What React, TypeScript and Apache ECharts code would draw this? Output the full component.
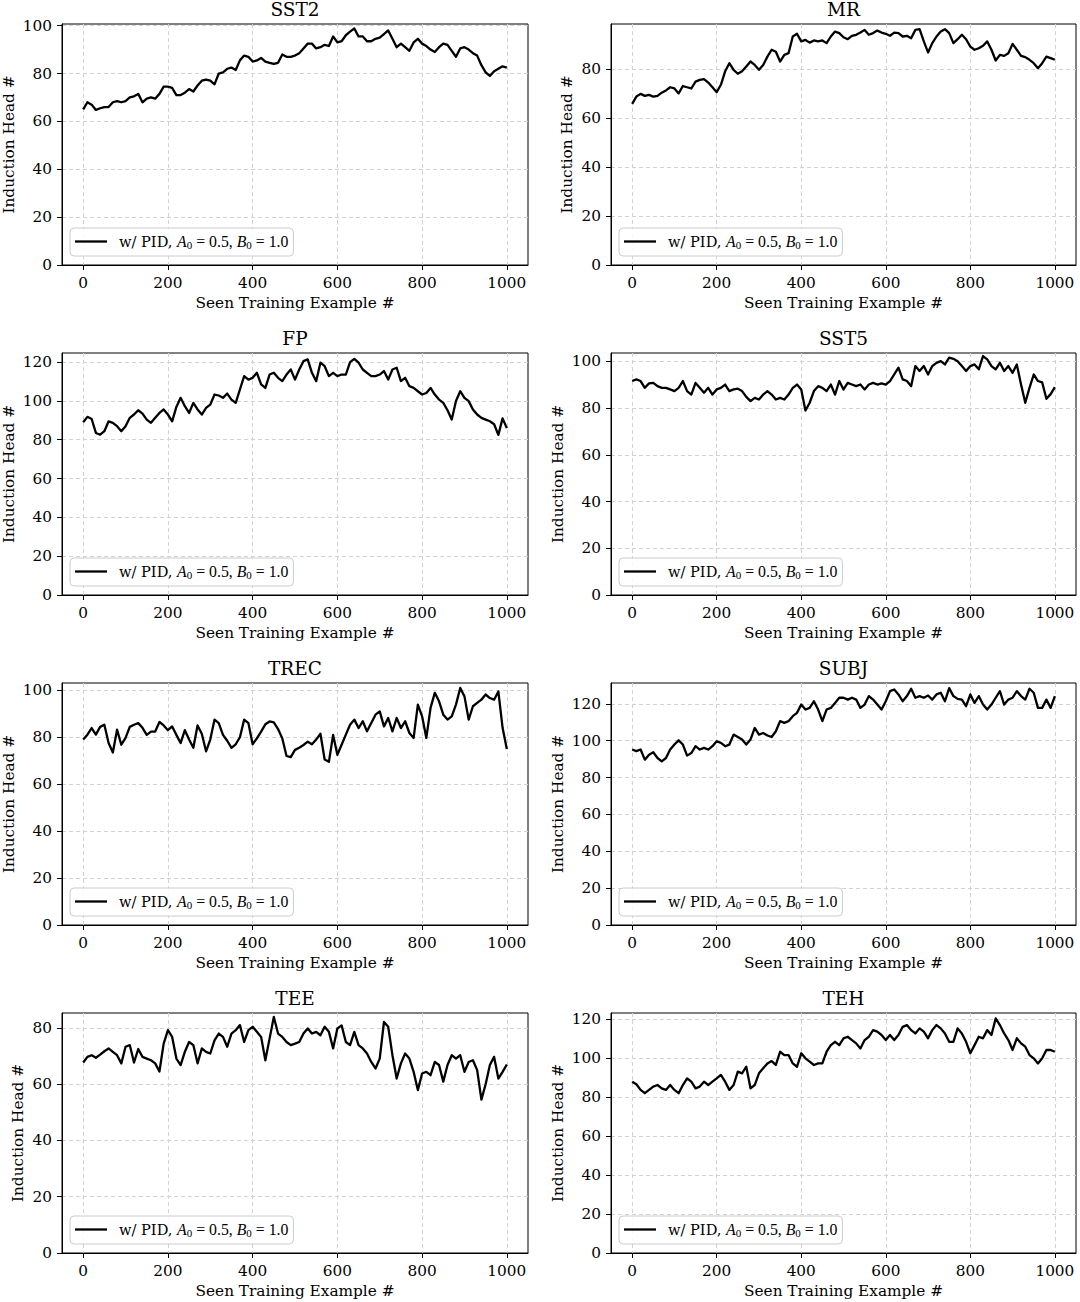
import React, { useEffect, useRef } from "react";
import * as echarts from "echarts";

// ---------- data ----------
const STEPS = [
  0, 10, 20, 30, 40, 50, 60, 70, 80, 90,
  100, 110, 120, 130, 140, 150, 160, 170, 180, 190,
  200, 210, 220, 230, 240, 250, 260, 270, 280, 290,
  300, 310, 320, 330, 340, 350, 360, 370, 380, 390,
  400, 410, 420, 430, 440, 450, 460, 470, 480, 490,
  500, 510, 520, 530, 540, 550, 560, 570, 580, 590,
  600, 610, 620, 630, 640, 650, 660, 670, 680, 690,
  700, 710, 720, 730, 740, 750, 760, 770, 780, 790,
  800, 810, 820, 830, 840, 850, 860, 870, 880, 890,
  900, 910, 920, 930, 940, 950, 960, 970, 980, 990,
  1000,
];

const SST2 = [
  65, 68, 67, 64.8, 65.5, 66, 66, 68, 68.5, 68,
  68.5, 70, 70.5, 71.5, 68, 69.5, 70, 69.5, 71.5, 74.5,
  74.5, 74, 71, 71, 72, 73.5, 72.5, 75, 77, 77.5,
  77, 75.5, 80, 80.5, 82, 82.5, 81.5, 85.5, 87.5, 87,
  85, 85.5, 86.5, 85, 84.5, 84, 84.5, 88, 87, 87,
  87.5, 88.5, 90.5, 92.5, 92.5, 90.5, 91, 92, 91.5, 95.5,
  93, 93.5, 96, 97.5, 98.8, 95.5, 95.5, 93.5, 93.5, 94.5,
  95, 96.5, 98, 94.5, 91, 92.5, 91, 89.5, 93, 94.5,
  92.5, 91.5, 90, 89, 91, 92.5, 92, 89.5, 87, 90.5,
  91, 90, 88.5, 87.5, 83.5, 80.5, 79, 81, 82, 83,
  82.5,
];

const MR = [
  65.7, 68.7, 69.8, 69, 69.4, 68.7, 69, 70.3, 71.2, 72.5,
  72, 70, 73, 72.5, 72, 74.8, 75.5, 75.8, 74.4, 72.5,
  70.5, 73.5, 79, 82.3, 79.6, 78, 79, 81, 83, 81.6,
  79.6, 81.6, 85, 87.8, 87, 83, 85.7, 86.4, 93.2, 94.3,
  91.2, 91.8, 90.7, 91.6, 91.2, 91.6, 90.5, 93.2, 95.2, 94.6,
  92.9, 92.1, 93.5, 93.9, 94.8, 95.9, 93.9, 94.6, 95.6, 94.8,
  94.3, 93.5, 94.8, 94.6, 93.2, 93.5, 92.5, 95.9, 96.2, 91.2,
  86.7, 90.5, 93.2, 95.2, 96.2, 94.6, 90.5, 92.1, 93.9, 92.1,
  89.1, 87.8, 88.4, 89.4, 91.2, 87.8, 83.4, 85.7, 85.3, 86.4,
  90.2, 87.8, 85.3, 84.8, 83.7, 82.3, 80.3, 82.3, 85, 84.4,
  83.7,
];

const FP = [
  89, 91.8, 90.7, 83.5, 82.6, 84.4, 89.5, 88.7, 87, 84.4,
  87, 91.3, 93, 95.2, 93.5, 90.4, 88.7, 91.3, 93.8, 95.6,
  93, 89.5, 96.9, 101.6, 97.3, 93.8, 99, 95.6, 93, 96.4,
  98.1, 103.3, 102.8, 101.6, 103.8, 100.7, 99, 105.9, 112.8, 111,
  111.9, 114.5, 108.5, 106.7, 113.6, 114.5, 111.9, 110.2, 113.6, 116.2,
  111, 116.2, 120.5, 121.4, 114.5, 110.2, 119.7, 117.9, 112.8, 114.5,
  112.8, 113.6, 113.6, 120, 121.7, 119.7, 116.2, 114.5, 112.8, 112.8,
  113.6, 115.4, 111, 116.2, 117.1, 110.2, 111.9, 107.6, 106.7, 105,
  103.3, 104.1, 106.7, 103.3, 100.7, 99, 95.2, 90.4, 100, 105,
  101.6, 99.9, 95.6, 93, 91.3, 90.4, 89.5, 88, 82.5, 91,
  86,
];

const SST5 = [
  91.6, 92.3, 91.6, 88.7, 90.6, 90.8, 89.4, 88.7, 88.7, 88,
  87.3, 88.7, 91.6, 87.3, 85.8, 90.8, 88.7, 86.6, 88.7, 85.8,
  88, 88.7, 90.1, 87.3, 88, 88.3, 87.3, 84.8, 83, 84.4,
  83.7, 85.8, 87.3, 85.8, 83.7, 84.4, 83.7, 85.8, 88.7, 90.1,
  88, 79, 82.3, 87.3, 89.4, 88.7, 87.3, 90.1, 85.8, 91.6,
  88, 90.8, 90.1, 89.4, 90.1, 88, 90.1, 90.8, 90.1, 90.6,
  90.1, 91.6, 94.4, 97.3, 92.3, 91.6, 89.4, 98, 95.9, 98,
  94.4, 98, 99.4, 100.1, 98.7, 101.6, 101.1, 100.1, 98, 95.9,
  98, 98.7, 96.6, 102.3, 100.9, 98, 96.6, 99.4, 95.9, 98,
  95.1, 98.7, 90.1, 82.3, 88.7, 94.4, 91.6, 91, 84, 86,
  89,
];

const TREC = [
  79, 81.1, 83.9, 81.1, 84.4, 85.3, 77.5, 73.5, 83.2, 76.8,
  79.7, 84.4, 85.3, 86, 84, 81, 82.4, 82.4, 86.5, 85,
  83, 84.6, 81, 77.5, 83, 79, 75.5, 85, 81.5, 74,
  79, 87.5, 86, 81, 78.5, 75.5, 77, 80, 87.5, 86,
  77, 79.5, 82.4, 85.5, 86.7, 86.3, 83.5, 79.5, 72, 71.5,
  74.6, 75.5, 76.7, 78.1, 77, 79, 81.5, 70.5, 69.5, 81,
  72.5, 76.8, 81.1, 85.3, 87.5, 83.9, 86.8, 82.5, 86.1, 89.6,
  91, 84.6, 88.2, 82.5, 88.2, 83.9, 86.8, 81.8, 79.7, 93.9,
  88.9, 79.7, 92.5, 98.9, 95.3, 89.6, 87.5, 88.9, 93.9, 101,
  97.4, 87.5, 93.2, 94.6, 96, 98.2, 96.7, 96, 99.5, 84,
  75,
];

const SUBJ = [
  95.2, 94.3, 95.2, 89.7, 92.4, 93.7, 90.6, 88.8, 90.6, 95.2,
  97.9, 100.2, 97.9, 91.9, 93.3, 97, 95.2, 96.1, 95.2, 97,
  99.7, 98.8, 97, 97.9, 103.3, 102, 100.6, 97.9, 100.6, 106.9,
  103.3, 104.2, 102.8, 102, 105.1, 110.6, 109.7, 110.6, 113.3, 115.1,
  119.6, 116.9, 117.8, 121.4, 116.9, 110.6, 116.9, 117.8, 120.5, 123.3,
  123.3, 122.3, 123.3, 122.3, 117.8, 119.6, 124.2, 122.3, 119.6, 116.9,
  121.4, 126.9, 127.8, 125.1, 121.4, 124.2, 128.2, 123.3, 124.2, 123.3,
  124.5, 122.3, 125.1, 126, 121.4, 128.5, 124.2, 122.7, 122.3, 118.7,
  125.1, 120.5, 124.2, 119.6, 116.9, 119.6, 123.3, 126.9, 119.6, 122.3,
  123.3, 126.9, 124.2, 122.3, 128.2, 126, 117.8, 117.8, 122.3, 117.8,
  124.2,
];

const TEE = [
  67.7, 69.7, 70.3, 69.4, 70.5, 71.7, 72.7, 71.5, 70.3, 67.4,
  73.3, 73.9, 67.7, 72.5, 69.7, 69.1, 68.5, 67.4, 64.5, 74.4,
  79.2, 76.8, 69.1, 66.8, 71.5, 75, 73.9, 67.4, 72.7, 71.5,
  70.9, 75.6, 78, 76.8, 73.3, 78, 79.2, 81, 75, 79.2,
  80.4, 78.6, 76.8, 68.5, 76.2, 83.9, 78, 76.8, 75, 73.9,
  74.4, 75, 78, 79.8, 78, 78.6, 77.4, 80.4, 78.6, 72.7,
  79.8, 80.9, 75, 73.9, 78.6, 73.9, 72.7, 70.9, 67.9, 65.6,
  69.1, 82.1, 80.4, 70.3, 62, 67.4, 70.9, 69.1, 64.4, 57.9,
  63.8, 64.4, 63.2, 67.9, 66.8, 60.9, 66.8, 70.3, 69.1, 70.3,
  64.4, 67.9, 68.5, 65, 54.5, 60, 66.8, 69.7, 62, 64.4,
  67,
];

const TEH = [
  88, 86.7, 83.8, 82.1, 83.8, 85.5, 86.3, 84.6, 83.8, 86.3,
  83.8, 82.1, 86.3, 89.7, 88, 84.6, 85.5, 88, 86.3, 88,
  89.7, 91.5, 88, 83.8, 86.3, 93.2, 92.3, 95.7, 84.6, 86.3,
  92.3, 94.9, 97.4, 98.6, 96.6, 103.4, 101.7, 101.7, 97.4, 95.7,
  102.6, 100, 98.3, 96.6, 97.4, 97.4, 103.4, 106.8, 108.5, 106.8,
  110.3, 111.1, 109.4, 107.7, 105.1, 109.4, 111.1, 114.5, 113.7, 112,
  109.4, 112, 109.4, 112, 116.2, 117.1, 114.5, 112.8, 115.4, 113.7,
  110.3, 114.5, 117.1, 115.4, 112.8, 108.5, 108.5, 115.4, 112.8, 108.5,
  102.6, 106.8, 111.1, 110.3, 114.5, 112, 120.5, 117.1, 112.8, 109.4,
  104.3, 110.3, 107.7, 106, 101.7, 100, 97.4, 100, 104.3, 104.3,
  103.4,
];

const X_TICKS = [0, 200, 400, 600, 800, 1000];
const Y_TICKS_80 = [0, 20, 40, 60, 80];
const Y_TICKS_100 = [0, 20, 40, 60, 80, 100];
const Y_TICKS_120 = [0, 20, 40, 60, 80, 100, 120];

const TITLES = ["SST2", "MR", "FP", "SST5", "TREC", "SUBJ", "TEE", "TEH"];
const VALUES = [SST2, MR, FP, SST5, TREC, SUBJ, TEE, TEH];
const Y_MAX = [100.7, 98.3, 124.7, 103.6, 103.1, 131.3, 85.3, 123.3];
const Y_TICKS = [Y_TICKS_100, Y_TICKS_80, Y_TICKS_120, Y_TICKS_100, Y_TICKS_100, Y_TICKS_120, Y_TICKS_80, Y_TICKS_120];

const SERIES_NAME = "w/ PID, A0 = 0.5, B0 = 1.0";
const X_LABEL = "Seen Training Example #";
const Y_LABEL = "Induction Head #";

// ---------- layout ----------
const COL_LEFT = [62, 611];
const COL_WIDTH = [466, 465];
const ROW_TOP = [24, 353, 683, 1013];
const ROW_HEIGHT = [241, 242, 242, 240];

const FONT = "'DejaVu Serif', serif";
const MATH = "'Liberation Serif', 'DejaVu Serif', serif";
const FS = 15.3;

function buildOption() {
  const grid: any[] = [];
  const xAxis: any[] = [];
  const yAxis: any[] = [];
  const series: any[] = [];
  const title: any[] = [];
  const legend: any[] = [];

  TITLES.forEach((name, i) => {
    const col = i % 2;
    const row = Math.floor(i / 2);
    const left = COL_LEFT[col];
    const top = ROW_TOP[row];
    const width = COL_WIDTH[col];
    const height = ROW_HEIGHT[row];
    const ticks = Y_TICKS[i];
    const maxTick = ticks[ticks.length - 1];

    grid.push({
      left,
      top,
      width,
      height,
      show: true,
      borderColor: "#000",
      borderWidth: 1,
      backgroundColor: "transparent",
      containLabel: false,
    });

    const splitLine = {
      show: true,
      lineStyle: { color: "#d2d2d2", type: [4, 3], width: 1 },
    };

    xAxis.push({
      type: "value",
      gridIndex: i,
      min: -50,
      max: 1050,
      name: X_LABEL,
      nameLocation: "middle",
      nameGap: 30,
      nameTextStyle: { fontFamily: FONT, fontSize: FS, color: "#000" },
      axisLine: { show: true, onZero: false, lineStyle: { color: "#000", width: 1 } },
      axisTick: { show: true, length: 5, customValues: X_TICKS, lineStyle: { color: "#000", width: 1 } },
      axisLabel: {
        show: true,
        customValues: X_TICKS,
        margin: 10.5,
        fontFamily: FONT,
        fontSize: FS,
        color: "#000",
        formatter: (v: number) => String(v),
      },
      splitLine,
    });

    yAxis.push({
      type: "value",
      gridIndex: i,
      min: 0,
      max: Y_MAX[i],
      name: Y_LABEL,
      nameLocation: "middle",
      nameGap: maxTick >= 100 ? 45.5 : 37,
      nameTextStyle: { fontFamily: FONT, fontSize: FS, color: "#000" },
      axisLine: { show: true, onZero: false, lineStyle: { color: "#000", width: 1 } },
      axisTick: { show: true, length: 5, customValues: ticks, lineStyle: { color: "#000", width: 1 } },
      axisLabel: {
        show: true,
        customValues: ticks,
        margin: 10,
        fontFamily: FONT,
        fontSize: FS,
        color: "#000",
        formatter: (v: number) => String(v),
      },
      splitLine,
    });

    const vals = VALUES[i];
    series.push({
      type: "line",
      name: SERIES_NAME,
      xAxisIndex: i,
      yAxisIndex: i,
      data: STEPS.map((x, k) => [x, vals[k]]),
      symbol: "none",
      showSymbol: false,
      lineStyle: { color: "#000", width: 2.3, join: "round" },
      itemStyle: { color: "#000" },
      emphasis: { disabled: true },
      z: 3,
    });

    title.push({
      text: name,
      left: left + width / 2,
      textAlign: "center",
      top: top - 23.5,
      padding: 0,
      textStyle: { fontFamily: FONT, fontSize: 18.5, fontWeight: "normal", color: "#000", lineHeight: 18 },
    });

    legend.push({
      show: true,
      data: [SERIES_NAME],
      left: left + 8,
      top: top + height - 37,
      orient: "horizontal",
      padding: [5.5, 5, 5.5, 5],
      backgroundColor: "rgba(255,255,255,0.85)",
      borderColor: "#cccccc",
      borderWidth: 1,
      borderRadius: 4,
      icon: "rect",
      itemWidth: 32,
      itemHeight: 2.3,
      itemStyle: { color: "#000" },
      selectedMode: false,
      formatter: () => "{t|w/ PID, }{m|A}{s|0}{n| = 0.5, }{m|B}{s|0}{n| = 1.0}",
      textStyle: {
        color: "#000",
        rich: {
          t: { fontFamily: FONT, fontSize: 14.6, color: "#000", lineHeight: 18, padding: [0, 0, 0, 7] },
          m: { fontFamily: MATH, fontStyle: "italic", fontSize: 15.8, color: "#000", lineHeight: 18 },
          n: { fontFamily: MATH, fontSize: 15.8, color: "#000", lineHeight: 18 },
          s: { fontFamily: MATH, fontSize: 11, color: "#000", lineHeight: 9, verticalAlign: "bottom" },
        },
      },
    });
  });

  return {
    animation: false,
    backgroundColor: "#fff",
    title,
    legend,
    grid,
    xAxis,
    yAxis,
    series,
  };
}

export default function App() {
  const ref = useRef<HTMLDivElement>(null);
  useEffect(() => {
    if (!ref.current) return;
    const chart = echarts.init(ref.current, null, { renderer: "svg" });
    chart.setOption(buildOption() as any);
    return () => {
      chart.dispose();
    };
  }, []);
  return (
    <div
      ref={ref}
      style={{ position: "absolute", left: 0, top: 0, width: 1080, height: 1302, background: "#fff" }}
    />
  );
}
